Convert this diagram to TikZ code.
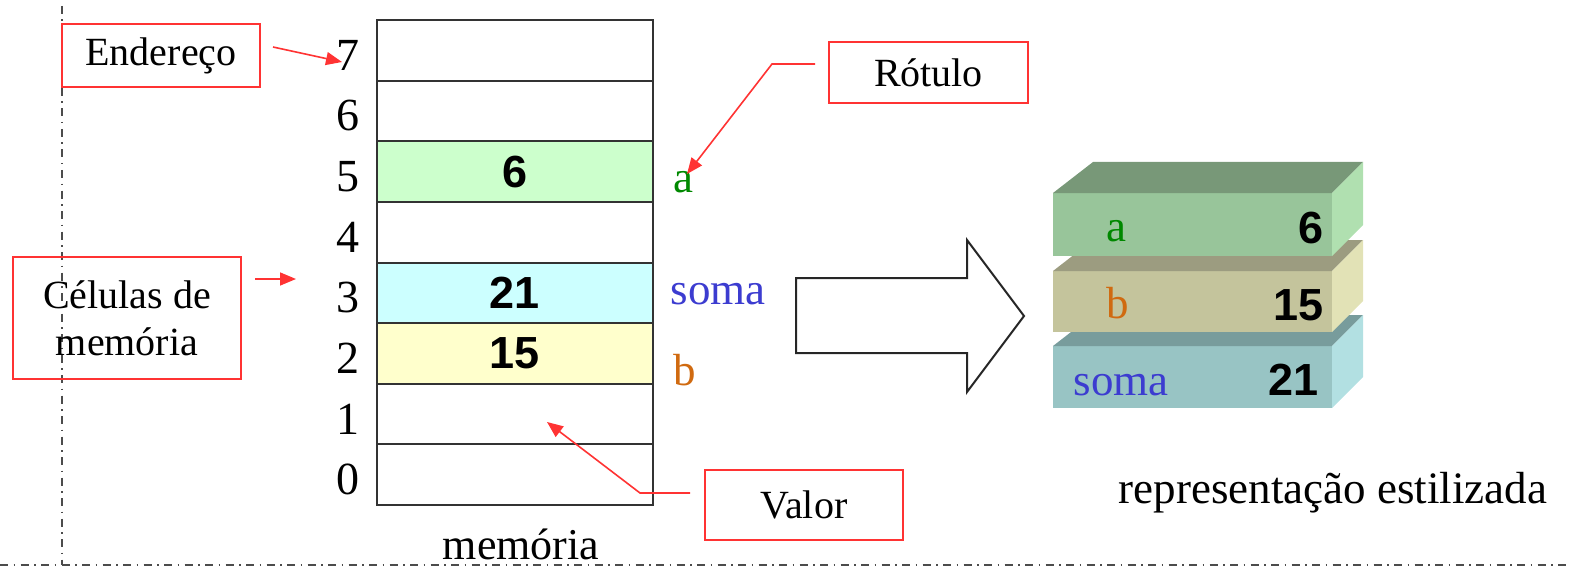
\documentclass[tikz,border=0pt]{standalone}
\usepackage{fontspec}
\setmainfont{Liberation Serif}
\newfontfamily\numfont{Liberation Sans}
\usetikzlibrary{arrows.meta}

\definecolor{boxred}{HTML}{FF3333}
\definecolor{gridgray}{HTML}{333333}
\definecolor{cellgreen}{HTML}{CCFFCC}
\definecolor{cellcyan}{HTML}{CCFFFF}
\definecolor{cellyellow}{HTML}{FFFFCC}
\definecolor{lblgreen}{HTML}{008800}
\definecolor{lblblue}{HTML}{3C3CD0}
\definecolor{lblorange}{HTML}{D06A10}
% stylized 3D blocks: front / top / side
\definecolor{aFront}{HTML}{98C59A}\definecolor{aTop}{HTML}{789878}\definecolor{aSide}{HTML}{B0E0B0}
\definecolor{bFront}{HTML}{C4C49C}\definecolor{bTop}{HTML}{9C9C80}\definecolor{bSide}{HTML}{E2E2B6}
\definecolor{sFront}{HTML}{98C4C4}\definecolor{sTop}{HTML}{789C9C}\definecolor{sSide}{HTML}{B2E0E2}

\tikzset{
  redbox/.style={draw=boxred, line width=1.8pt, rectangle, inner sep=0pt,
    font=\fontsize{40}{47}\selectfont, align=center},
  callout/.style={draw=boxred, line width=1.6pt, line join=miter,
    -{Triangle[length=16pt,width=13pt,fill=boxred]}},
  addr/.style={anchor=base, font=\fontsize{46}{50}\selectfont},
  val/.style={font=\numfont\bfseries\fontsize{45}{50}\selectfont},
  lbl/.style={anchor=base west, font=\fontsize{45}{50}\selectfont},
  cell/.style={draw=gridgray, line width=2pt, rectangle, minimum width=276pt,
    minimum height=60.625pt, inner sep=0pt},
  sepline/.style={draw=black!70, line width=2.4pt,
    dash pattern=on 8pt off 5.5pt on 1.5pt off 5.5pt},
}

\begin{document}
\begin{tikzpicture}[x=1pt,y=-1pt]
\useasboundingbox (0,0) rectangle (1569,567);

% page separators
\draw[sepline] (62,6) -- (62,565);
\draw[sepline] (0,565) -- (1569,565);

% memory cells, address 7 at the top
\foreach \i/\fc in {7/white,6/white,5/cellgreen,4/white,3/cellcyan,2/cellyellow,1/white,0/white}{
  \pgfmathsetmacro{\yc}{20+(7-\i+0.5)*60.625}
  \node[cell, fill=\fc] (cell\i) at (515,\yc) {};
  \node[addr] (addr\i) at (348,\yc+20) {\i};
}

% stored values
\node[val] (v6)  at (cell5) {6};
\node[val] (v21) at (cell3) {21};
\node[val] (v15) at (cell2) {15};

% variable names
\node[lbl, text=lblgreen]  (la)    at (670,193) {a};
\node[lbl, text=lblblue]   (lsoma) at (667,304) {soma};
\node[lbl, text=lblorange] (lb)    at (670,385) {b};

\node[font=\fontsize{44}{50}\selectfont, anchor=base, fill=white, inner sep=0.5pt] (mem) at (521,559) {memória};

% callout boxes
\node[redbox, minimum width=198pt, minimum height=63pt] (end) at (161,55.5) {Endereço};
\node[redbox, minimum width=228pt, minimum height=122pt] (cel) at (127,318) {Células de\\memória};
\node[redbox, minimum width=199pt, minimum height=61pt] (rot) at (928.5,72.5) {Rótulo};
\node[redbox, minimum width=198pt, minimum height=70pt] (valor) at (804,505) {Valor};

% callout connectors
\coordinate (endS) at (273,47);   \coordinate (endT) at (342,62);
\draw[callout] (endS) -- (endT);
\coordinate (celS) at (255,279);  \coordinate (celT) at (296,279);
\draw[callout] (celS) -- (celT);
\coordinate (rotS) at (815,64);   \coordinate (rotK) at (772,64);  \coordinate (rotT) at (687,174);
\draw[callout] (rotS) -- (rotK) -- (rotT);
\coordinate (valS) at (690,493);  \coordinate (valK) at (640,493); \coordinate (valT) at (547,422);
\draw[callout] (valS) -- (valK) -- (valT);

% big hollow arrow
\draw[line width=2pt, draw=black!85, line join=miter]
  (796,278) -- (967,278) -- (967,240) -- (1024,316) -- (967,392) -- (967,353) -- (796,353) -- cycle;

% stylized stacked blocks (bottom first)
% soma
\fill[sFront] (1053,346) rectangle (1332,408);
\fill[sTop]  (1053,346) -- (1093,315) -- (1363,315) -- (1332,346) -- cycle;
\fill[sSide] (1332,346) -- (1363,315) -- (1363,377) -- (1332,408) -- cycle;
% b
\fill[bFront] (1053,271) rectangle (1332,332);
\fill[bTop]  (1053,271) -- (1093,240) -- (1363,240) -- (1332,271) -- cycle;
\fill[bSide] (1332,271) -- (1363,240) -- (1363,301) -- (1332,332) -- cycle;
% a
\fill[aFront] (1053,193) rectangle (1332,256);
\fill[aTop]  (1053,193) -- (1093,162) -- (1363,162) -- (1332,193) -- cycle;
\fill[aSide] (1332,193) -- (1363,162) -- (1363,225) -- (1332,256) -- cycle;

\node[lbl, text=lblgreen]  (sa)    at (1103,241) {a};
\node[val, anchor=base east] (s6)  at (1327,243) {6};
\node[lbl, text=lblorange] (sb)    at (1103,318) {b};
\node[val, anchor=base east] (s15) at (1327,320) {15};
\node[lbl, text=lblblue]   (ssoma) at (1070,395) {soma};
\node[val, anchor=base east] (s21) at (1322,395) {21};

\node[anchor=base, font=\fontsize{45}{50}\selectfont] (rep) at (1333,503) {representação estilizada};
\end{tikzpicture}
\end{document}
